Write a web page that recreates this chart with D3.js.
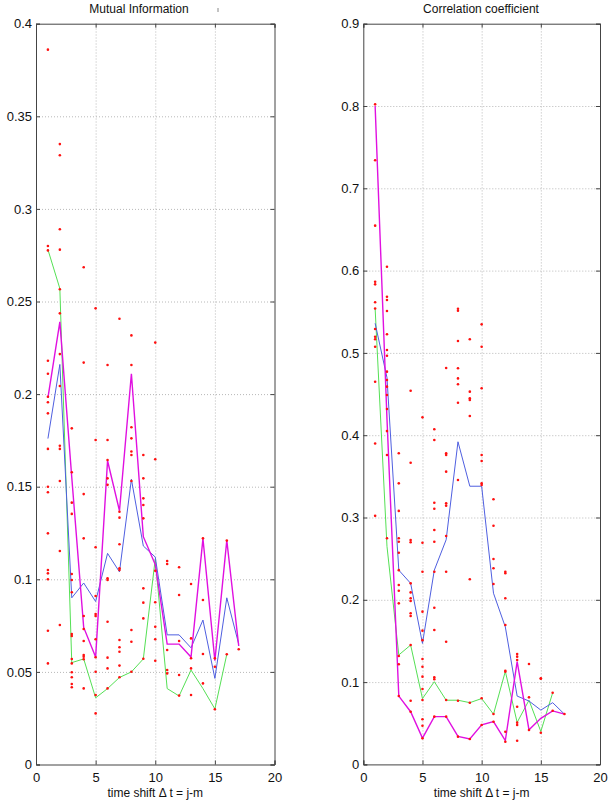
<!DOCTYPE html>
<html>
<head>
<meta charset="utf-8">
<script src="https://cdn.jsdelivr.net/npm/d3@7"></script>
<style>
  body { margin: 0; background: #fff; }
  svg { font-family: "Liberation Sans", Arial, sans-serif; }
  .tick line { stroke: #444; }
  .grid line { stroke: #b8b8b8; stroke-dasharray: 1,2; }
  .grid .domain { display: none; }
</style>
</head>
<body>
<div id="chart"></div>
<script>
// --> DATA
var shifts = [1, 2, 3, 4, 5, 6, 7, 8, 9, 10, 11, 12, 13, 14, 15, 16, 17];
var xTicks = [0, 5, 10, 15, 20];
var miTicks = [0, 0.05, 0.1, 0.15, 0.2, 0.25, 0.3, 0.35, 0.4];
var ccTicks = [0, 0.1, 0.2, 0.3, 0.4, 0.5, 0.6, 0.7, 0.8, 0.9];

// mutual information, three summary curves (green ends at shift 16)
var miGreen = [0.278, 0.257, 0.055, 0.057, 0.036, 0.041, 0.047, 0.050, 0.057, 0.111, 0.041, 0.037, 0.051, 0.041, 0.030, 0.0595];
var miBlue = [0.176, 0.216, 0.090, 0.098, 0.088, 0.114, 0.104, 0.154, 0.118, 0.112, 0.070, 0.070, 0.063, 0.078, 0.0465, 0.090, 0.065];
var miMagenta = [0.198, 0.239, 0.155, 0.074, 0.058, 0.164, 0.137, 0.211, 0.123, 0.108, 0.065, 0.065, 0.058, 0.122, 0.056, 0.121, 0.064];

// mutual information, single values per shift
var miDots = [
    [0.386, 0.280, 0.2776, 0.218, 0.211, 0.1986, 0.1956, 0.1896, 0.1704, 0.150, 0.147, 0.1248, 0.105, 0.1032, 0.100, 0.0722, 0.0546],
    [0.335, 0.329, 0.289, 0.278, 0.2566, 0.2436, 0.2216, 0.2044, 0.1721, 0.1704, 0.1531, 0.1153, 0.0753],
    [0.1815, 0.1578, 0.1414, 0.1353, 0.1029, 0.0996, 0.093, 0.0705, 0.0694, 0.057, 0.0546, 0.0498, 0.0471, 0.0435, 0.0417],
    [0.2685, 0.217, 0.146, 0.1221, 0.0802, 0.0732, 0.0667, 0.0591, 0.0582, 0.0568, 0.0411],
    [0.2463, 0.1752, 0.1173, 0.091, 0.0813, 0.0802, 0.0676, 0.0579, 0.0501, 0.0375, 0.0276],
    [0.2157, 0.1752, 0.1644, 0.1545, 0.151, 0.1005, 0.0996, 0.0771, 0.0577, 0.0519, 0.0411],
    [0.2407, 0.1365, 0.1333, 0.1189, 0.106, 0.105, 0.0672, 0.0633, 0.0609, 0.0534, 0.0471],
    [0.2317, 0.2157, 0.1821, 0.1761, 0.169, 0.1671, 0.1531, 0.0726, 0.0663, 0.0501],
    [0.1671, 0.1545, 0.1437, 0.1401, 0.1329, 0.0951, 0.0874, 0.0789, 0.0571],
    [0.2278, 0.1648, 0.1046, 0.0876, 0.0744, 0.0676, 0.056],
    [0.1099, 0.1083, 0.0618, 0.051, 0.0492],
    [0.1065, 0.0915, 0.0667, 0.0483, 0.0372],
    [0.0975, 0.0681, 0.0574, 0.0519, 0.0375],
    [0.1221, 0.0888, 0.0597, 0.0438],
    [0.0574, 0.0528, 0.0298],
    [0.1209, 0.0595],
    [0.0622]
];

// correlation coefficient, three summary curves
var ccGreen = [0.554, 0.265, 0.133, 0.145, 0.080, 0.1005, 0.078, 0.078, 0.075, 0.080, 0.061, 0.113, 0.051, 0.078, 0.040, 0.087];
var ccBlue = [0.536, 0.47, 0.236, 0.22, 0.147, 0.236, 0.273, 0.392, 0.338, 0.338, 0.208, 0.167, 0.083, 0.077, 0.066, 0.075, 0.061];
var ccMagenta = [0.80, 0.42, 0.083, 0.064, 0.032, 0.058, 0.058, 0.034, 0.031, 0.048, 0.052, 0.029, 0.125, 0.042, 0.056, 0.065, 0.061];

var ccDots = [
    [0.802, 0.734, 0.6546, 0.5865, 0.5833, 0.5615, 0.554, 0.529, 0.5197, 0.5165, 0.5075, 0.465, 0.390, 0.302],
    [0.6047, 0.5683, 0.5643, 0.5509, 0.5226, 0.5035, 0.4966, 0.4772, 0.467, 0.459, 0.4488, 0.4318, 0.405, 0.376, 0.2747],
    [0.378, 0.3415, 0.308, 0.2747, 0.2706, 0.2572, 0.236, 0.218, 0.211, 0.1957, 0.1317, 0.1216, 0.0831],
    [0.454, 0.3666, 0.2727, 0.2699, 0.22, 0.209, 0.2018, 0.1985, 0.1836, 0.1803, 0.145, 0.0774, 0.064],
    [0.4217, 0.2694, 0.234, 0.1856, 0.1625, 0.151, 0.128, 0.1187, 0.1066, 0.0916, 0.0782, 0.0548, 0.047, 0.0317],
    [0.4072, 0.3942, 0.318, 0.3107, 0.2848, 0.2706, 0.234, 0.1904, 0.1633, 0.1058, 0.1034, 0.058],
    [0.4817, 0.378, 0.376, 0.3557, 0.3173, 0.3144, 0.2775, 0.234, 0.149, 0.0783, 0.058],
    [0.5537, 0.5513, 0.5144, 0.4813, 0.469, 0.4619, 0.4395, 0.3456, 0.0774, 0.0337],
    [0.5165, 0.4529, 0.4448, 0.4428, 0.4233, 0.2249, 0.075, 0.0309],
    [0.5347, 0.5075, 0.457, 0.376, 0.3687, 0.3415, 0.3395, 0.0803, 0.0479],
    [0.3221, 0.29, 0.2496, 0.2383, 0.2192, 0.0612, 0.0519],
    [0.234, 0.2322, 0.2018, 0.1694, 0.1138, 0.1126, 0.0397, 0.0276],
    [0.1341, 0.1309, 0.1268, 0.0701, 0.0507, 0.0479, 0.0288],
    [0.122, 0.0815, 0.0418],
    [0.1046, 0.104, 0.0385],
    [0.0871, 0.0652],
    [0.0612]
];

var xLabel = "time shift \u0394 t = j-m";

// --> SVG
var width = 614,
    height = 805;

var svg = d3.select("#chart").append("svg")
    .attr("width", width)
    .attr("height", height);

function drawPanel(p) {
    var x = d3.scaleLinear().domain([0, 20]).range([p.left, p.right]);
    var y = d3.scaleLinear().domain([0, p.yMax]).range([p.bottom, p.top]);
    var g = svg.append("g");

    // dotted grid
    g.append("g").attr("class", "grid")
        .attr("transform", "translate(0," + p.bottom + ")")
        .call(d3.axisBottom(x).tickValues(xTicks.slice(1, -1)).tickSize(-(p.bottom - p.top)).tickFormat(""));
    g.append("g").attr("class", "grid")
        .attr("transform", "translate(" + p.left + ",0)")
        .call(d3.axisLeft(y).tickValues(p.yTicks.slice(1, -1)).tickSize(-(p.right - p.left)).tickFormat(""));

    // curves
    var line = d3.line()
        .x(function(d, i) { return x(shifts[i]); })
        .y(function(d) { return y(d); });
    p.curves.forEach(function(c) {
        g.append("path")
            .datum(c.values)
            .attr("fill", "none")
            .attr("stroke", c.color)
            .attr("stroke-width", c.w)
            .attr("d", line);
    });

    // red dots
    var pts = [];
    p.dots.forEach(function(vals, i) {
        vals.forEach(function(v) { pts.push([shifts[i], v]); });
    });
    g.append("g").selectAll("circle")
        .data(pts)
        .enter().append("circle")
        .attr("cx", function(d) { return x(d[0]); })
        .attr("cy", function(d) { return y(d[1]); })
        .attr("r", 1.3)
        .attr("fill", "#ff1010");

    // axes with inward ticks on all sides
    var fmt = function(d) { return d3.format("")(+d.toFixed(2)); };
    var ax = g.append("g")
        .attr("transform", "translate(0," + p.bottom + ")")
        .call(d3.axisBottom(x).tickValues(xTicks).tickSize(-4).tickPadding(8).tickFormat(fmt));
    var ay = g.append("g")
        .attr("transform", "translate(" + p.left + ",0)")
        .call(d3.axisLeft(y).tickValues(p.yTicks).tickSize(-4).tickPadding(4).tickFormat(fmt));
    g.append("g")
        .attr("transform", "translate(0," + p.top + ")")
        .call(d3.axisTop(x).tickValues(xTicks).tickSize(-4).tickFormat(""));
    g.append("g")
        .attr("transform", "translate(" + p.right + ",0)")
        .call(d3.axisRight(y).tickValues(p.yTicks).tickSize(-4).tickFormat(""));
    g.selectAll(".domain").attr("stroke", "#444");
    [ax, ay].forEach(function(a) {
        a.selectAll("text").attr("font-size", 13).attr("fill", "#111")
            .attr("font-family", "Liberation Sans, Arial, sans-serif");
    });

    g.append("text")
        .attr("x", p.titleX)
        .attr("y", 13)
        .attr("text-anchor", "middle")
        .attr("font-size", 12)
        .attr("fill", "#111")
        .text(p.title);
    g.append("text")
        .attr("x", (p.left + p.right) / 2)
        .attr("y", 797)
        .attr("text-anchor", "middle")
        .attr("font-size", 12)
        .attr("fill", "#111")
        .text(xLabel);
}

drawPanel({
    left: 36, right: 274.5, top: 23.7, bottom: 764.5,
    yMax: 0.4, yTicks: miTicks,
    title: "Mutual Information", titleX: 139,
    dots: miDots,
    curves: [
        { values: miGreen, color: "#55e055", w: 1 },
        { values: miBlue, color: "#4f5fe0", w: 1 },
        { values: miMagenta, color: "#e010e0", w: 1.4 }
    ]
});

drawPanel({
    left: 363.3, right: 600, top: 23.7, bottom: 764.4,
    yMax: 0.9, yTicks: ccTicks,
    title: "Correlation coefficient", titleX: 481,
    dots: ccDots,
    curves: [
        { values: ccGreen, color: "#55e055", w: 1 },
        { values: ccBlue, color: "#4f5fe0", w: 1 },
        { values: ccMagenta, color: "#e010e0", w: 1.4 }
    ]
});

// stray mark next to the left title
svg.append("line")
    .attr("x1", 218).attr("x2", 218)
    .attr("y1", 8).attr("y2", 12)
    .attr("stroke", "#888");
</script>
</body>
</html>
